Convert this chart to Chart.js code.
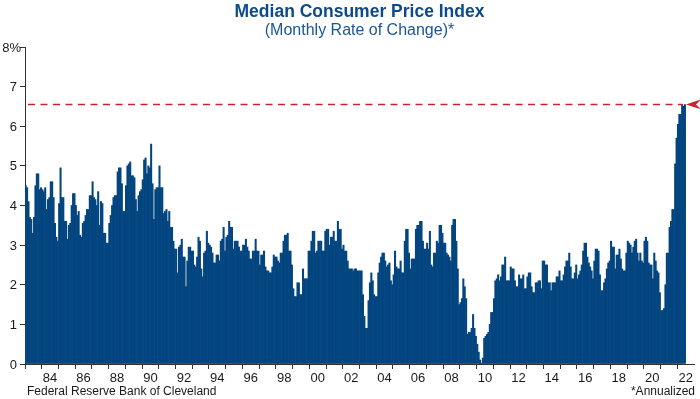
<!DOCTYPE html>
<html><head><meta charset="utf-8">
<script src="https://cdn.jsdelivr.net/npm/chart.js@4.4.1/dist/chart.umd.min.js"></script>
<style>html,body{margin:0;padding:0;background:#fff;}#c{display:block;}</style>
</head><body>
<canvas id="c" width="700" height="399"></canvas>
<script>
// ---- data ----
const startYear = 1983;
const endYear = 2022;
const medianCpi = [
  4.5,4.45,4.1,3.7,3.65,3.3,3.7,4.5,4.8,4.8,4.4,4.45,          // 1983
  4.4,4.35,4.45,3.9,4.15,4.2,4.6,4.6,4.2,3.55,3.2,3.1,         // 1984
  4.05,4.95,4.2,4.2,3.6,3.6,3.15,3.5,3.55,4.0,4.3,4.3,         // 1985
  4.0,3.75,3.85,3.25,3.2,3.55,3.6,3.75,3.9,3.9,4.25,4.25,      // 1986
  4.6,4.2,4.15,4.0,4.35,3.5,4.1,4.05,3.3,3.3,3.05,3.05,        // 1987
  3.55,3.75,4.0,4.2,4.25,4.25,4.85,4.95,4.95,4.55,3.85,3.85,   // 1988
  4.5,5.0,5.05,5.1,4.75,4.75,4.7,4.15,3.85,4.25,4.35,4.4,      // 1989
  4.65,5.15,5.2,4.8,5.0,4.95,5.55,4.55,3.65,4.4,4.45,4.45,     // 1990
  5.0,4.45,4.45,3.8,3.85,3.9,3.6,3.85,3.45,3.45,3.1,2.9,       // 1991
  2.9,2.3,2.95,3.0,3.15,2.7,2.7,1.95,2.6,2.95,2.95,2.85,       // 1992
  2.85,2.5,2.45,2.7,3.2,3.1,2.4,2.2,2.8,2.85,3.35,3.05,        // 1993
  3.0,2.95,2.8,2.55,2.55,2.75,2.75,2.6,3.1,3.15,3.45,2.85,     // 1994
  3.2,3.25,3.6,3.45,3.45,2.9,3.1,3.1,3.1,2.95,2.85,2.85,       // 1995
  3.0,3.0,3.15,2.95,2.85,2.65,2.65,2.85,2.85,3.15,2.85,2.85,   // 1996
  2.5,2.75,2.75,2.85,2.45,2.35,2.35,2.3,2.3,2.45,2.75,2.7,     // 1997
  2.7,2.6,2.55,2.8,2.8,3.1,3.25,3.25,3.3,2.85,2.85,2.5,        // 1998
  1.9,1.7,1.7,2.05,2.05,1.75,1.75,2.4,2.15,2.15,2.15,2.85,     // 1999
  2.85,3.1,3.35,3.35,2.8,2.85,3.1,3.1,3.1,2.85,2.85,3.35,      // 2000
  3.4,3.4,3.0,3.2,3.2,3.35,3.1,3.1,3.6,3.4,3.4,2.9,            // 2001
  3.0,2.85,2.85,2.6,2.4,2.4,2.4,2.35,2.4,2.4,2.35,2.35,        // 2002
  2.35,2.35,1.75,1.2,0.9,0.9,1.6,2.05,2.3,2.1,1.75,1.7,        // 2003
  1.7,2.3,2.55,2.7,2.8,2.8,2.6,2.45,2.5,2.55,2.1,2.0,          // 2004
  2.25,2.85,2.45,2.4,2.4,2.6,2.3,2.3,3.1,3.4,3.4,2.8,          // 2005
  2.4,2.65,2.65,2.65,3.4,3.5,3.5,3.6,3.6,3.1,2.9,2.9,          // 2006
  3.05,2.9,3.35,2.5,2.45,2.8,2.8,3.1,3.05,3.5,3.5,3.3,         // 2007
  3.05,3.05,2.8,2.75,2.7,2.6,3.5,3.65,3.65,3.1,2.4,1.5,        // 2008
  1.55,1.65,2.15,1.95,1.65,0.75,0.8,0.8,0.9,1.25,0.9,0.7,      // 2009
  0.5,0.3,0.1,0.02,0.15,0.65,0.7,0.75,0.8,1.0,1.3,1.3,         // 2010
  1.65,2.1,2.15,2.25,2.1,2.2,2.5,2.5,2.7,2.1,2.1,2.1,          // 2011
  2.45,2.4,2.4,2.1,1.95,1.95,2.25,2.15,2.15,2.25,1.9,1.9,      // 2012
  2.2,2.3,2.3,1.95,1.8,1.8,2.05,2.05,2.1,2.1,1.9,2.6,          // 2013
  2.6,2.5,2.5,2.05,2.05,1.85,2.05,2.05,2.05,2.2,2.2,2.35,      // 2014
  2.1,2.1,2.25,2.45,2.6,2.6,2.8,2.45,2.15,2.15,2.3,2.5,        // 2015
  2.15,2.25,2.35,2.5,2.85,3.05,3.05,2.7,2.55,2.45,2.35,2.15,   // 2016
  2.6,2.9,2.9,2.85,2.25,1.85,1.85,2.05,2.15,2.4,2.55,2.6,      // 2017
  3.1,2.95,2.95,2.4,2.75,2.75,2.9,2.65,2.4,2.35,2.35,2.8,      // 2018
  3.1,3.05,3.0,2.8,2.95,3.1,3.15,2.8,2.6,2.8,2.6,2.55,         // 2019
  3.1,3.2,3.1,2.55,2.5,2.5,2.15,2.8,2.6,2.35,2.3,1.8,          // 2020
  1.35,1.35,1.4,2.0,2.8,2.8,3.45,3.6,3.9,3.9,5.05,5.7,         // 2021
  6.05,6.3,6.3,6.55,6.5,6.55                                   // 2022
];
const yearTickLabels = ['84','86','88','90','92','94','96','98','00','02','04','06','08','10','12','14','16','18','20','22'];
const yTicks = [0,1,2,3,4,5,6,7,8];
const peakLine = 6.55;
const titleText = 'Median Consumer Price Index';
const subtitleText = '(Monthly Rate of Change)*';
const sourceText = 'Federal Reserve Bank of Cleveland';
const noteText = '*Annualized';

// month categories, Jan 1983 .. Dec 2022
const months = [];
for (let y = startYear; y <= endYear; y++) {
  for (let m = 1; m <= 12; m++) months.push(y + '-' + String(m).padStart(2, '0'));
}

const FONT = '"Liberation Sans", Arial, Helvetica, sans-serif';
const BLUE = '#03457f';
const AXIS = '#333333';

const decor = {
  id: 'decor',
  afterDatasetsDraw(chart) {
    const {ctx, chartArea, scales} = chart;
    const y = scales.y.getPixelForValue(peakLine);
    const tipX = chartArea.right - 8;
    ctx.save();
    ctx.strokeStyle = '#cc2229';
    ctx.lineWidth = 1.5;
    ctx.setLineDash([7, 5.5]);
    ctx.beginPath();
    ctx.moveTo(chartArea.left + 3, y);
    ctx.lineTo(tipX - 3, y);
    ctx.stroke();
    ctx.setLineDash([]);
    ctx.fillStyle = '#cc2229';
    ctx.beginPath();
    ctx.moveTo(tipX, y);
    ctx.lineTo(tipX + 15, y - 5);
    ctx.lineTo(tipX + 10, y);
    ctx.lineTo(tipX + 15, y + 5);
    ctx.closePath();
    ctx.fill();
    ctx.restore();
  },
  afterDraw(chart) {
    const {ctx, chartArea, scales} = chart;
    const cx = (chartArea.left + chartArea.right) / 2;
    ctx.save();
    ctx.textAlign = 'center';
    ctx.textBaseline = 'middle';
    ctx.fillStyle = '#0d4a8a';
    ctx.font = 'bold 17.5px ' + FONT;
    ctx.fillText(titleText, cx, 12);
    ctx.fillStyle = '#1a5596';
    ctx.font = '16px ' + FONT;
    ctx.fillText(subtitleText, cx, 31);
    // y tick labels, positioned by the y scale
    ctx.fillStyle = '#1a1a1a';
    ctx.font = '13px ' + FONT;
    ctx.textAlign = 'right';
    scales.y.ticks.forEach(t => {
      const py = scales.y.getPixelForValue(t.value);
      if (t.value === 8) ctx.fillText('8%', chartArea.left - 4, py + 1);
      else ctx.fillText(String(t.value), chartArea.left - 8, py + 1);
    });
    ctx.font = '12px ' + FONT;
    ctx.textAlign = 'left';
    ctx.fillText(sourceText, chartArea.left + 2, 392);
    ctx.textAlign = 'right';
    ctx.fillText(noteText, chart.width - 5, 392);
    ctx.restore();
  }
};

new Chart(document.getElementById('c'), {
  type: 'bar',
  data: {
    labels: months,
    datasets: [{
      data: medianCpi,
      backgroundColor: BLUE,
      borderWidth: 0,
      barPercentage: 1,
      categoryPercentage: 1
    }]
  },
  options: {
    responsive: false,
    animation: false,
    devicePixelRatio: 1,
    layout: {padding: {top: 47, right: 6, left: 0, bottom: 0}},
    plugins: {legend: {display: false}, tooltip: {enabled: false}, title: {display: false}},
    scales: {
      x: {
        type: 'category',
        offset: true,
        afterFit(scale) { scale.height = 35; },
        grid: {
          display: true,
          offset: true,
          drawOnChartArea: false,
          drawTicks: true,
          tickLength: 5,
          tickWidth: 1,
          tickColor: (c) => (c.index % 12 === 0 ? AXIS : 'rgba(0,0,0,0)')
        },
        border: {display: true, color: AXIS, width: 1},
        ticks: {
          autoSkip: false,
          maxRotation: 0,
          minRotation: 0,
          padding: 2,
          labelOffset: -0.7,
          color: '#1a1a1a',
          font: {family: FONT, size: 13},
          callback: function (value, index) {
            if (index % 12 !== 6) return '';
            const yy = String((startYear + Math.floor(index / 12)) % 100).padStart(2, '0');
            return yearTickLabels.includes(yy) ? yy : '';
          }
        }
      },
      y: {
        min: 0,
        max: 8,
        afterFit(scale) { scale.width = 25; },
        afterBuildTicks(scale) { scale.ticks = yTicks.map(v => ({value: v})); },
        grid: {display: true, drawOnChartArea: false, drawTicks: true, tickLength: 5, tickColor: AXIS},
        border: {display: true, color: AXIS, width: 1},
        ticks: {display: false}
      }
    }
  },
  plugins: [decor]
});
</script>
</body></html>
